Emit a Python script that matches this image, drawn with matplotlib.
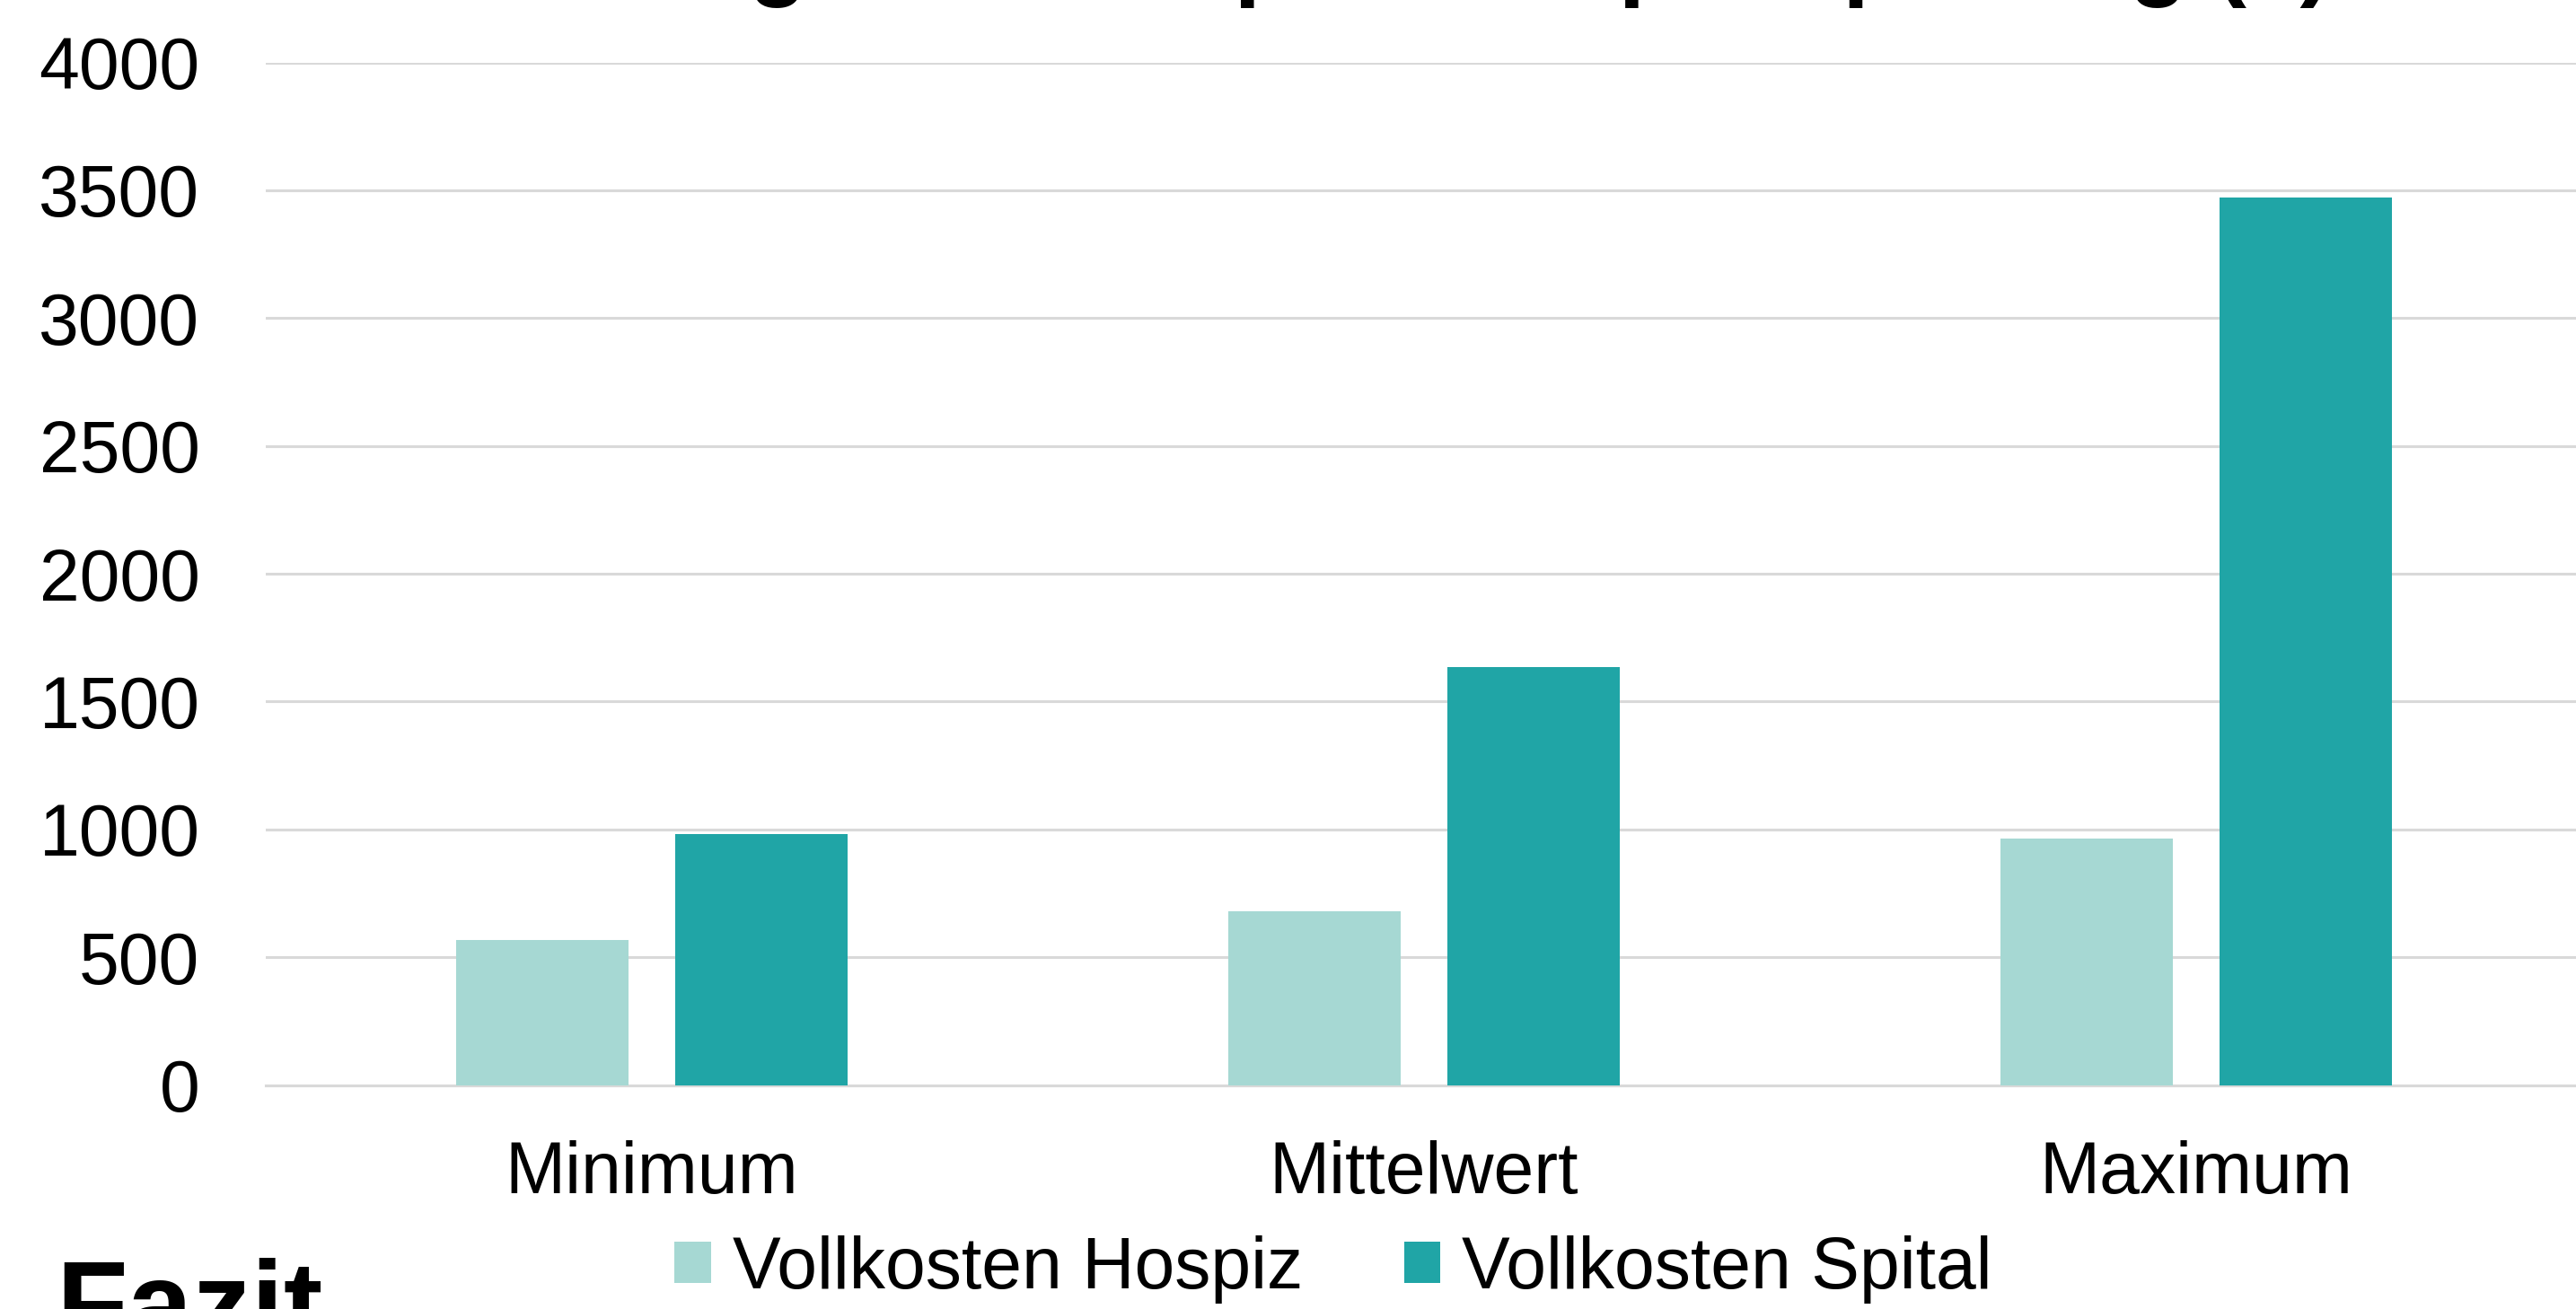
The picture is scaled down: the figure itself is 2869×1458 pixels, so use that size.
import matplotlib
matplotlib.use("Agg")
import matplotlib.pyplot as plt
import numpy as np
from matplotlib.patches import Patch

plt.rcParams['font.family'] = ['Liberation Sans', 'DejaVu Sans']

categories = ["Minimum", "Mittelwert", "Maximum"]
series_names = ["Vollkosten Hospiz", "Vollkosten Spital"]
hospiz = [568, 681, 964]
spital = [980, 1635, 3473]
yticks = [0, 500, 1000, 1500, 2000, 2500, 3000, 3500, 4000]
title_text = "Kostenvergleich Hospiz vs. Spital pro Tag (€)"
footer_text = "Fazit"

c_light = "#A6D8D3"
c_dark = "#20A5A6"
grid_c = "#D9D9D9"

W, H = 2869, 1458
fig = plt.figure(figsize=(W / 100, H / 100), dpi=100)
left, right = 296 / W, 2876 / W
bottom, top = 1 - 1208.5 / H, 1 - 69.5 / H
ax = fig.add_axes([left, bottom, right - left, top - bottom])

x = np.arange(len(categories))
bw = 0.2233
off = 0.1419
ax.bar(x - off, hospiz, width=bw, color=c_light, zorder=3, label=series_names[0])
ax.bar(x + off, spital, width=bw, color=c_dark, zorder=3, label=series_names[1])

ax.set_xlim(-0.5, 2.5)
ax.set_ylim(0, 4000)
ax.set_yticks(yticks)
ax.set_yticklabels([str(v) for v in yticks])
ax.set_xticks(x)
ax.set_xticklabels(categories)
ax.yaxis.grid(True, color=grid_c, linewidth=2.2, zorder=0)
ax.set_axisbelow(True)
for s in ["top", "right", "left"]:
    ax.spines[s].set_visible(False)
ax.spines["bottom"].set_color(grid_c)
ax.spines["bottom"].set_linewidth(2.2)
ax.tick_params(axis='y', length=0, pad=53, labelsize=58, colors='black')
ax.tick_params(axis='x', length=0, pad=44, labelsize=58, colors='black')

handles = [Patch(facecolor=c_light, edgecolor='none'), Patch(facecolor=c_dark, edgecolor='none')]
fig.legend(handles, series_names, loc='center', bbox_to_anchor=(1485 / W, 1 - 1414 / H),
           ncol=2, frameon=False, fontsize=58, handlelength=0.5, handleheight=0.5,
           handletextpad=0.3, columnspacing=1.4, borderpad=0, borderaxespad=0)

fig.text(0.507, 1 + 13 / H, title_text, ha='center', va='baseline', fontsize=77,
         fontweight='bold')
fig.text(62 / W, -(1497 - H) / H, footer_text,
         ha='left', va='baseline', fontsize=94, fontweight='bold')

fig.savefig("out.png", dpi=100)
